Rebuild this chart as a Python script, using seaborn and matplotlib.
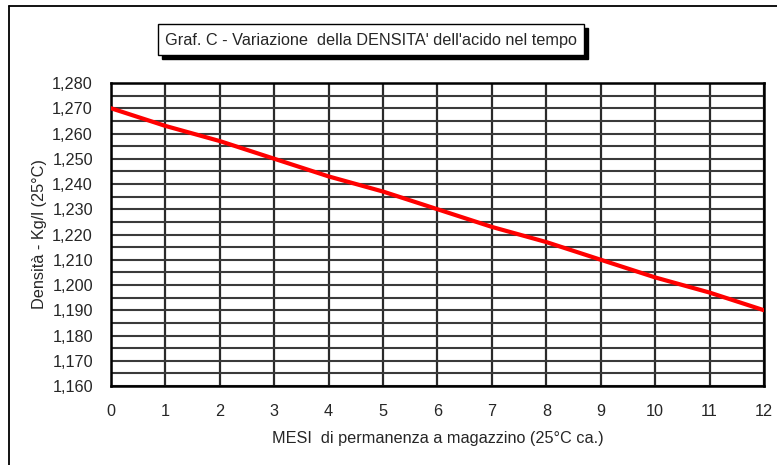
import numpy as np
import pandas as pd
import matplotlib
matplotlib.use("Agg")
import matplotlib.pyplot as plt
import matplotlib.patches as patches
from matplotlib.ticker import MultipleLocator, FuncFormatter
import seaborn as sns

# Data
mesi = [0, 1, 2, 3, 4, 5, 6, 7, 8, 9, 10, 11, 12]
densita = [1.270, 1.263, 1.257, 1.250, 1.243, 1.237, 1.230,
           1.223, 1.217, 1.210, 1.203, 1.197, 1.190]

titolo = "Graf. C - Variazione  della DENSITA' dell'acido nel tempo"
label_x = "MESI  di permanenza a magazzino (25°C ca.)"
label_y = "Densità - Kg/l (25°C)"

df = pd.DataFrame({"Mesi": mesi, "Densita": densita})

sns.set_style("white")
plt.rcParams['font.family'] = ['Liberation Sans', 'DejaVu Sans']
fs = 11.7

W, H = 777, 465
fig = plt.figure(figsize=(W / 100, H / 100), dpi=100)
ax = fig.add_axes([111 / W, 1 - 386 / H, 653 / W, 303 / H])

sns.lineplot(data=df, x="Mesi", y="Densita", color="#ff0000", linewidth=3.0, ax=ax, zorder=5)

ax.set_xlim(0, 12)
ax.set_ylim(1.160, 1.280)
ax.xaxis.set_major_locator(MultipleLocator(1))
ax.yaxis.set_major_locator(MultipleLocator(0.010))
ax.yaxis.set_minor_locator(MultipleLocator(0.005))
ax.yaxis.set_major_formatter(FuncFormatter(lambda v, p: f"{v:.3f}".replace(".", ",")))

ax.grid(True, which="major", axis="x", color="#2a2a2a", linewidth=1.6)
ax.grid(True, which="both", axis="y", color="#3a3a3a", linewidth=1.5)
ax.set_axisbelow(True)

for s in ax.spines.values():
    s.set_color("black")
    s.set_linewidth(1.8)

ax.tick_params(axis="y", which="major", length=4, width=1.2, color="black", pad=9,
               labelsize=fs, direction="out")
ax.tick_params(axis="y", which="minor", length=4, width=1.2, color="black")
ax.tick_params(axis="x", length=0, pad=13, labelsize=fs)

ax.set_xlabel("")
ax.set_ylabel(label_y, fontsize=fs, labelpad=4)
fig.text(437.5 / W, 1 - 438 / H, label_x, ha="center", va="center", fontsize=fs)

# outer chart frame (left and top only visible)
fig.add_artist(plt.Line2D([9 / W, 9 / W], [0, 1 - 6 / H], transform=fig.transFigure,
                          color="black", linewidth=1.3))
fig.add_artist(plt.Line2D([9 / W, 1], [1 - 6 / H, 1 - 6 / H], transform=fig.transFigure,
                          color="black", linewidth=1.3))

# title box with shadow
bx0, bx1, by0, by1 = 158, 584, 24, 55
fig.add_artist(patches.Rectangle(((bx0 + 4) / W, 1 - (by1 + 4) / H), (bx1 - bx0) / W,
                                 (by1 - by0) / H, transform=fig.transFigure,
                                 facecolor="black", edgecolor="black"))
fig.add_artist(patches.Rectangle((bx0 / W, 1 - by1 / H), (bx1 - bx0) / W,
                                 (by1 - by0) / H, transform=fig.transFigure,
                                 facecolor="white", edgecolor="black", linewidth=1.0))
fig.text((bx0 + bx1) / 2 / W, 1 - 40 / H, titolo, ha="center", va="center", fontsize=fs)

fig.savefig("out.png", dpi=100)
